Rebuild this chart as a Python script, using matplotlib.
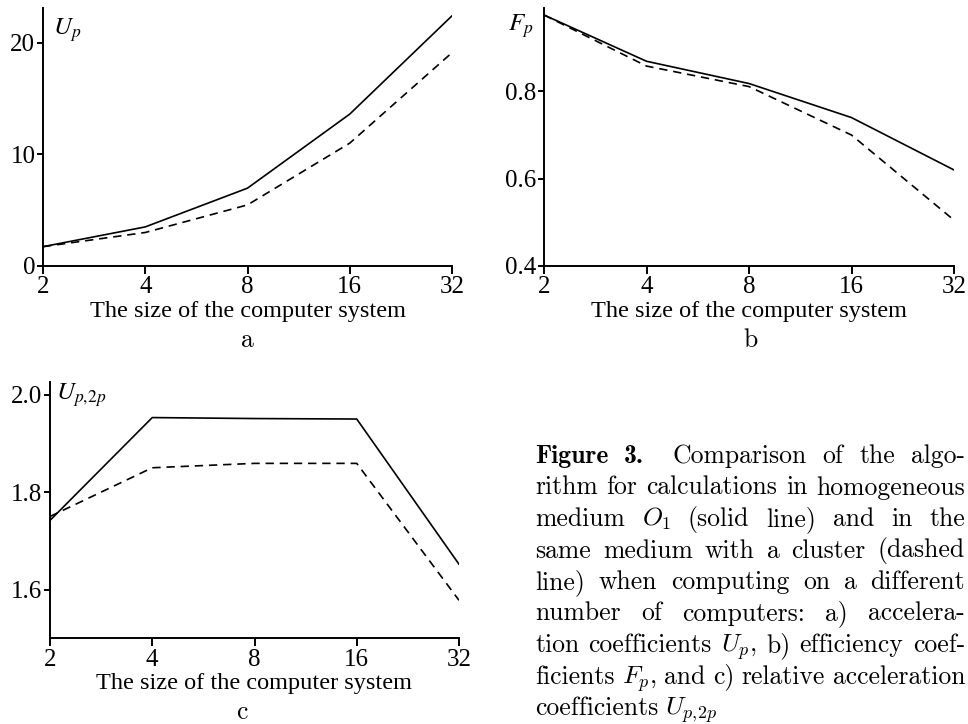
import matplotlib
matplotlib.use("Agg")
import matplotlib.pyplot as plt

plt.rcParams['font.family'] = ['Liberation Serif', 'DejaVu Serif']

# data
sizes = [2, 4, 8, 16, 32]
up_solid = [1.73, 3.5, 6.97, 13.6, 22.4]
up_dashed = [1.73, 3.0, 5.47, 11.0, 19.1]
fp_solid = [0.975, 0.869, 0.818, 0.740, 0.620]
fp_dashed = [0.975, 0.858, 0.811, 0.700, 0.505]
u2p_solid = [1.742, 1.953, 1.951, 1.950, 1.652]
u2p_dashed = [1.750, 1.850, 1.859, 1.859, 1.578]

xlabel = "The size of the computer system"
caption = [
    "Figure 3. Comparison of the algo-",
    "rithm for calculations in homogeneous",
    "medium $O_1$ (solid line) and in the",
    "same medium with a cluster (dashed",
    "line) when computing on a different",
    "number of computers: a) accelera-",
    "tion coefficients $U_p$, b) efficiency coef-",
    "ficients $F_p$, and c) relative acceleration",
    r"coefficients $U_{p,\!2p}$",
]

W, H = 968, 724
fig = plt.figure(figsize=(W / 100, H / 100), dpi=100)


def make_ax(rect, solid, dashed, ylim, yticks, ylab, ylab_xy, ylab_ha):
    ax = fig.add_axes(rect)
    ax.plot(sizes, solid, color="black", lw=1.2)
    ax.plot(sizes, dashed, color="black", lw=1.2, dashes=(5, 3.5))
    ax.set_xscale("log", base=2)
    ax.set_xlim(2, 32)
    ax.set_xticks(sizes)
    ax.set_xticklabels([str(s) for s in sizes])
    ax.minorticks_off()
    ax.set_ylim(*ylim)
    ax.set_yticks(yticks)
    ax.set_yticklabels([str(t) for t in yticks])
    for s in ["top", "right"]:
        ax.spines[s].set_visible(False)
    for s in ["left", "bottom"]:
        ax.spines[s].set_linewidth(1.4)
    ax.tick_params(axis="x", length=6, width=1.4, pad=1.5, labelsize=18)
    ax.tick_params(axis="y", length=4.5, width=1.4, pad=1, labelsize=18)
    ax.set_xlabel(xlabel, fontsize=17.5, labelpad=2)
    ax.text(ylab_xy[0], ylab_xy[1], ylab, transform=ax.transAxes, fontsize=18,
            ha=ylab_ha, va="center", math_fontfamily="stix")
    return ax


ax1 = make_ax([43 / W, 1 - 266 / H, 409 / W, 258 / H], up_solid, up_dashed,
              (0, 23.1), [0, 10, 20], "$U_p$", (0.025, 0.915), "left")
ax2 = make_ax([544 / W, 1 - 266 / H, 410 / W, 258 / H], fp_solid, fp_dashed,
              (0.4, 0.991), [0.4, 0.6, 0.8], "$F_p$", (-0.025, 0.93), "right")
ax3 = make_ax([50 / W, 1 - 638.3 / H, 409 / W, 256.3 / H], u2p_solid, u2p_dashed,
              (1.5, 2.026), [1.6, 1.8, 2.0], r"$U_{p,\!2p}$", (0.015, 0.95), "left")

cap_kw = dict(family="cmr10", math_fontfamily="cm", fontsize=18.5)
for lab, x, y in [("a", 247, 340), ("b", 750, 340), ("c", 242, 712)]:
    fig.text(x / W, 1 - y / H, lab, ha="center", va="center", **cap_kw)

# justified caption, word by word
renderer = fig.canvas.get_renderer()
x0, x1 = 535, 965
y = 463
for i, line in enumerate(caption):
    words = line.split(" ")
    texts = []
    for j, w in enumerate(words):
        kw = dict(cap_kw)
        if i == 0 and j < 2:
            kw["family"] = "cmb10"
        texts.append(fig.text(0, 1 - y / H, w, va="baseline", **kw))
    widths = [t.get_window_extent(renderer).width for t in texts]
    extra = [0] * len(words)
    if i == 0:
        extra[1] = 12  # wider space after the figure label
    if i < len(caption) - 1:
        gap = (x1 - x0 - sum(widths) - sum(extra)) / (len(words) - 1)
    else:
        gap = 7
    x = x0
    for t, wd, ex in zip(texts, widths, extra):
        t.set_x(x / W)
        x += wd + gap + ex
    y += 31.5

fig.savefig("out.png", dpi=100)
